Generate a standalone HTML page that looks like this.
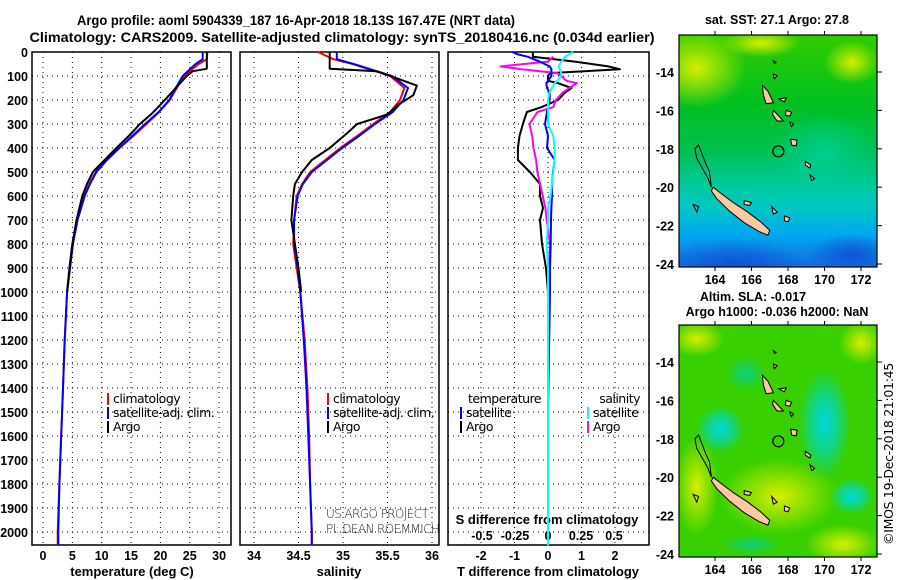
<!DOCTYPE html>
<html><head><meta charset="utf-8"><style>
html,body{margin:0;padding:0;background:#fff;}
svg{display:block;font-family:"Liberation Sans",sans-serif;}
.b{font-weight:bold;font-size:13px;}
.t{font-weight:bold;font-size:12.5px;}
</style></head><body>
<svg id="c" width="900" height="580" viewBox="0 0 900 580">
<defs>
<linearGradient id="sstg" x1="0" y1="0" x2="0" y2="1">
<stop offset="0" stop-color="#30cc00"/><stop offset="0.3" stop-color="#00c020"/><stop offset="0.5" stop-color="#00c050"/><stop offset="0.62" stop-color="#00c890"/><stop offset="0.74" stop-color="#00c8c0"/><stop offset="0.86" stop-color="#00a8f0"/><stop offset="1" stop-color="#1868e0"/></linearGradient>
<radialGradient id="yl"><stop offset="0" stop-color="#e0f000" stop-opacity="0.95"/><stop offset="1" stop-color="#e0f000" stop-opacity="0"/></radialGradient>
<radialGradient id="cy"><stop offset="0" stop-color="#00d8e0" stop-opacity="1"/><stop offset="0.5" stop-color="#00d8c0" stop-opacity="0.7"/><stop offset="1" stop-color="#00d8c0" stop-opacity="0"/></radialGradient>
<radialGradient id="db"><stop offset="0" stop-color="#1050d0" stop-opacity="0.9"/><stop offset="1" stop-color="#1050d0" stop-opacity="0"/></radialGradient>
<radialGradient id="cy2"><stop offset="0" stop-color="#00d0a0" stop-opacity="0.8"/><stop offset="1" stop-color="#00d0a0" stop-opacity="0"/></radialGradient>
<clipPath id="m1c"><rect x="679" y="35" width="198" height="232"/></clipPath>
<clipPath id="m2c"><rect x="679" y="325" width="198" height="232"/></clipPath>
</defs>
<text x="296" y="25" text-anchor="middle" textLength="438" lengthAdjust="spacingAndGlyphs" class="b" style="font-size:14px">Argo profile: aoml 5904339_187 16-Apr-2018 18.13S 167.47E (NRT data)</text>
<text x="342" y="42" text-anchor="middle" textLength="625" lengthAdjust="spacingAndGlyphs" class="b" style="font-size:14px">Climatology: CARS2009. Satellite-adjusted climatology: synTS_20180416.nc (0.034d earlier)</text>
<g id="plots"></g>
<g id="maps"></g>
</svg>
<script>
// ---------- data ----------
const climDepth = [0,30,50,100,150,200,250,300,350,400,450,500,550,600,700,800,900,1000,1200,1400,1600,1800,2000,2055];
const climTemp  = [28,27.9,26.5,24,22.8,21.6,19.8,17.6,15.4,13,10.8,9,7.9,7,5.8,5.1,4.6,4.1,3.7,3.4,3.1,2.8,2.5,2.5];
const satTemp   = [27.2,27.2,26,23.8,22.6,21.5,19.7,17.4,15.2,13,10.9,9.1,8,7.1,5.9,5.1,4.6,4.1,3.7,3.4,3.1,2.8,2.6,2.6];
const argoDepth = [0,70,80,100,140,180,220,260,300,340,400,450,500,550,600,700,800,900,1000];
const argoTemp  = [27.9,27.9,25.5,24.5,23,21.5,20,18.4,16.5,15,12.5,10.5,8.5,7.5,6.7,5.7,5.0,4.5,4.1];
const climSal   = [34.72,34.89,35.11,35.53,35.69,35.64,35.53,35.34,35.16,34.97,34.8,34.63,34.54,34.48,34.45,34.44,34.48,34.52,34.57,34.6,34.62,34.63,34.65,34.65];
const satSal    = [34.93,34.93,35.12,35.55,35.73,35.68,35.56,35.36,35.18,34.99,34.82,34.65,34.55,34.49,34.45,34.45,34.49,34.52,34.56,34.59,34.61,34.63,34.65,34.65];
const argoSal   = [34.85,34.85,35.38,35.53,35.83,35.79,35.62,35.5,35.16,35.04,34.85,34.65,34.54,34.46,34.44,34.42,34.46,34.5,34.53];
const diffDepth = [0,10,20,40,60,72,88,100,120,130,150,170,200,230,250,300,350,400,450,500,550,600,650,700,800,900,1000,1500,2055];
const argoTDiff = [-0.45,-0.45,-0.45,0.8,1.8,2.15,0.06,0.0,0.0,0.3,0.7,0.5,0.3,-0.2,-0.63,-0.75,-0.85,-0.9,-0.9,-0.54,-0.24,-0.24,-0.15,-0.24,-0.18,-0.06,0.0,null,null];
const satTDiff  = [-1.07,-0.9,-0.6,-0.25,0.05,0.1,0.1,0.1,0.0,-0.05,-0.03,0.05,0.05,0.0,-0.03,-0.09,0.0,-0.03,0.2,0.15,0.12,0.12,0.1,0.09,0.08,0.06,0.06,0.0,0.0];
const argoSDiff = [null,null,0.04,0.0,-0.36,-0.2,0.07,0.1,0.14,0.22,0.16,0.11,0.06,0.04,-0.08,-0.14,-0.12,-0.11,-0.09,-0.08,-0.06,-0.04,-0.02,-0.01,0.015,0.01,0.01,null,null];
const satSDiff  = [0.19,0.16,0.13,0.1,0.08,0.09,0.1,0.1,0.07,0.05,0.03,0.01,0.0,0.0,0.0,0.0,0.04,0.05,0.05,0.04,0.03,0.02,0.0,0.0,-0.01,0.0,0.0,0.0,0.0];
const depthTicks = [0,100,200,300,400,500,600,700,800,900,1000,1100,1200,1300,1400,1500,1600,1700,1800,1900,2000];
const tempTicks = [0,5,10,15,20,25,30];
const salTicks = [34,34.5,35,35.5,36];
const salTickLabels = ["34","34.5","35","35.5","36"];
const tdTicks = [-2,-1,0,1,2];
const sdTicks = [-0.5,-0.25,0,0.25,0.5];
const sdTickLabels = ["-0.5","-0.25","0","0.25","0.5"];
const lonTicks = [164,166,168,170,172];
const latTicks = [-14,-16,-18,-20,-22,-24];
const floatLon = 167.47, floatLat = -18.13;

const NS='http://www.w3.org/2000/svg';
const P=document.getElementById('plots');
function mk(tag,attrs,parent){const e=document.createElementNS(NS,tag);for(const k in attrs)e.setAttribute(k,attrs[k]);(parent||P).appendChild(e);return e;}
const yD = d => 52 + d*0.24;
const xT = t => 43 + t*5.87;
const xS = s => 254 + (s-34)*89;
const xTD = d => 548 + d*33.5;
const xSD = d => 548 + d*132;
const panels=[{x0:32,x1:231},{x0:240,x1:439},{x0:448,x1:649}];
const Y0=52,Y1=545;

function grid(px,xs){
  depthTicks.forEach(d=>{const l=mk('line',{x1:px.x0,x2:px.x1,y1:yD(d),y2:yD(d),stroke:'#000','stroke-dasharray':'1,4','stroke-width':1});
  
  });
  xs.forEach(x=>{const l=mk('line',{x1:x,x2:x,y1:Y0,y2:Y1,stroke:'#000','stroke-dasharray':'1,4','stroke-width':1});
  
  });
}
grid(panels[0],tempTicks.map(xT));
grid(panels[1],salTicks.map(xS));
grid(panels[2],tdTicks.map(xTD));
panels.forEach((p,i)=>{const r=mk('rect',{x:p.x0,y:Y0,width:p.x1-p.x0,height:Y1-Y0,fill:'none',stroke:'#000','stroke-width':1.5});

});
depthTicks.forEach(d=>{const t=mk('text',{x:28,y:yD(d)+5,'text-anchor':'end','class':'t'});t.textContent=d;

});
function xlabels(ticks,labels,fx,y){ticks.forEach((v,i)=>{const t=mk('text',{x:fx(v),y:y,'text-anchor':'middle','class':'t'});t.textContent=labels?labels[i]:v;

});}
xlabels(tempTicks,null,xT,560);
xlabels(salTicks,salTickLabels,xS,560);
xlabels(tdTicks,null,xTD,560);
xlabels(sdTicks,sdTickLabels,xSD,540);
[['temperature (deg C)',132,'x-axis-title-temperature'],['salinity',339,'x-axis-title-salinity'],['T difference from climatology',548,'x-axis-title-t-diff']].forEach(a=>{
 const t=mk('text',{x:a[1],y:576,'text-anchor':'middle','class':'b'});t.textContent=a[0];
 
 });
{const t=mk('text',{x:547,y:524,'text-anchor':'middle','class':'b'});t.textContent='S difference from climatology';

}

function line(xs,ds,fx,color,name,w){
  let d='',pen=false;
  for(let i=0;i<xs.length;i++){ if(xs[i]===null||xs[i]===undefined){pen=false;continue;}
    d+=(pen?'L':'M')+fx(xs[i]).toFixed(1)+','+yD(ds[i]).toFixed(1);pen=true;}
  const p=mk('path',{d:d,fill:'none',stroke:color,'stroke-width':w||2,'stroke-linejoin':'round'});
  
  
}
line(climTemp,climDepth,xT,'#ff0000','temp-climatology-line');
line(satTemp,climDepth,xT,'#0000ff','temp-satellite-line');
line(argoTemp,argoDepth,xT,'#000','temp-argo-line');
line(climSal,climDepth,xS,'#ff0000','sal-climatology-line');
line(satSal,climDepth,xS,'#0000ff','sal-satellite-line');
line(argoSal,argoDepth,xS,'#000','sal-argo-line');
line(argoTDiff,diffDepth,xTD,'#000','t-diff-argo-line');
line(argoSDiff,diffDepth,xSD,'#ff00ff','s-diff-argo-line');
line(satTDiff,diffDepth,xTD,'#0000ff','t-diff-satellite-line');
line(satSDiff,diffDepth,xSD,'#00ffff','s-diff-satellite-line');

function legend(x,y,color,label,name){
  const m=mk('rect',{x:x,y:y-10,width:2,height:12,fill:color});
  
  
  const t=mk('text',{x:x+6,y:y,style:'font-size:12.5px;font-family:\"DejaVu Sans\",sans-serif;letter-spacing:-0.5px'});t.textContent=label;
  
  
}
[[107,'climatology','#ff0000'],[107,'satellite-adj. clim.','#0000ff'],[107,'Argo','#000']].forEach((a,i)=>legend(a[0],403+i*14,a[2],a[1],'legend-temp-'+i));
[[327,'climatology','#ff0000'],[327,'satellite-adj. clim.','#0000ff'],[327,'Argo','#000']].forEach((a,i)=>legend(a[0],403+i*14,a[2],a[1],'legend-sal-'+i));
{const t=mk('text',{x:468,y:403,style:'font-size:12.5px;font-family:\"DejaVu Sans\",sans-serif;letter-spacing:-0.5px'});t.textContent='temperature';


const s=mk('text',{x:640,y:403,'text-anchor':'end',style:'font-size:12.5px;font-family:\"DejaVu Sans\",sans-serif;letter-spacing:-0.5px'});s.textContent='salinity';

}
legend(460,417,'#0000ff','satellite','legend-tdiff-satellite');
legend(460,431,'#000','Argo','legend-tdiff-argo');
legend(587,417,'#00ffff','satellite','legend-sdiff-satellite');
legend(587,431,'#ff00ff','Argo','legend-sdiff-argo');
{const a=mk('text',{x:326,y:518,style:'font-size:12px;font-family:\"DejaVu Sans\",sans-serif;font-weight:200;fill:#222;letter-spacing:-0.6px'});a.textContent='US ARGO PROJECT';


const b=mk('text',{x:326,y:533,style:'font-size:12px;font-family:\"DejaVu Sans\",sans-serif;font-weight:200;fill:#222;letter-spacing:-0.6px'});b.textContent='PI: DEAN ROEMMICH';

}

// ---------- maps ----------
const M=document.getElementById('maps');
function mm(tag,attrs,parent){const e=document.createElementNS(NS,tag);for(const k in attrs)e.setAttribute(k,attrs[k]);(parent||M).appendChild(e);return e;}
const lonX = lo => 715 + (lo-164)*18.25;
const latY = (la,y0) => y0 + 37 + (-14-la)*19.2;
const newCal=[[163.9,-20.0],[164.3,-20.3],[165.0,-20.8],[165.8,-21.3],[166.5,-21.8],[167.0,-22.25],[166.9,-22.5],[166.4,-22.3],[165.6,-21.85],[164.8,-21.25],[164.1,-20.6],[163.8,-20.2]];
const islands=[
[[166.6,-14.7],[166.9,-15.0],[167.2,-15.6],[166.8,-15.65],[166.65,-15.2]],
[[167.2,-16.0],[167.5,-16.3],[167.75,-16.55],[167.4,-16.55],[167.15,-16.2]],
[[168.15,-17.5],[168.5,-17.55],[168.45,-17.85],[168.2,-17.8]],
[[168.95,-18.65],[169.25,-18.85],[169.2,-19.0],[168.95,-18.85]],
[[169.2,-19.35],[169.45,-19.55],[169.3,-19.65]],
[[167.5,-15.4],[167.9,-15.35],[167.8,-15.55]],
[[167.9,-16.0],[168.2,-16.1],[168.1,-16.3],[167.85,-16.25]],
[[168.1,-16.6],[168.3,-16.7],[168.2,-16.85]],
[[167.2,-14.1],[167.4,-14.2],[167.25,-14.35]],
[[167.2,-13.4],[167.35,-13.5],[167.25,-13.55]],
[[167.1,-21.0],[167.4,-21.3],[167.2,-21.4]],
[[167.8,-21.5],[168.1,-21.6],[168.0,-21.8],[167.8,-21.75]],
[[165.6,-20.7],[166.0,-20.8],[165.9,-20.95],[165.6,-20.9]]];
const reef=[[163.0,-21.3],[163.1,-21.0],[162.8,-20.9],[162.9,-21.1]];
const ncReef=[[163.8,-20.0],[163.6,-19.5],[163.3,-19.0],[163.0,-18.5],[162.9,-18.0],[163.1,-17.8],[163.3,-18.3],[163.5,-18.8],[163.7,-19.2]];
function poly(pts,y0,attrs,name){const e=mm('polygon',Object.assign({points:pts.map(p=>lonX(p[0]).toFixed(1)+','+latY(p[1],y0).toFixed(1)).join(' ')},attrs));
 
 return e;}
function map(y0,clip,bg,blobs,title1,idx){
  const g=mm('g',{'clip-path':'url(#'+clip+')'});
  
  
  mm('rect',{x:679,y:y0,width:198,height:232,fill:bg},g);
  blobs.forEach(b=>{mm('ellipse',{cx:lonX(b[0]),cy:latY(b[1],y0),rx:b[2],ry:b[3],fill:'url(#'+b[4]+')'},g);});
  const ow={fill:'none',stroke:'#000','stroke-width':1};
  g.appendChild(poly(ncReef,y0,ow,'reef-outline'));
  g.appendChild(poly(reef,y0,ow,'reef-outline'));
  g.appendChild(poly(newCal,y0,{fill:'#ffc8a0',stroke:'#000','stroke-width':1},'new-caledonia'));
  islands.forEach(il=>g.appendChild(poly(il,y0,{fill:'#ffc8a0',stroke:'#000','stroke-width':1},'island')));
  const c=mm('circle',{cx:lonX(floatLon),cy:latY(floatLat,y0),r:5.5,fill:'none',stroke:'#000','stroke-width':1.2},g);
  
  
  const f=mm('rect',{x:679,y:y0,width:198,height:232,fill:'none',stroke:'#000','stroke-width':1.2});
  
  
  lonTicks.forEach(lo=>{mm('line',{x1:lonX(lo),x2:lonX(lo),y1:y0,y2:y0-4,stroke:'#000'});mm('line',{x1:lonX(lo),x2:lonX(lo),y1:y0+232,y2:y0+236,stroke:'#000'});
   const t=mm('text',{x:lonX(lo),y:y0+249,'text-anchor':'middle','class':'t'});t.textContent=lo;
   
   });
  latTicks.forEach(la=>{mm('line',{x1:877,x2:882,y1:latY(la,y0),y2:latY(la,y0),stroke:'#000'});
   const t=mm('text',{x:674,y:latY(la,y0)+5,'text-anchor':'end','class':'t'});t.textContent=la;
   
   });
  title1.forEach(tt=>{const t=mm('text',{x:tt[1],y:tt[2],'text-anchor':'middle','class':'t'});t.textContent=tt[0];
   
   });
}
map(35,'m1c','url(#sstg)',[[163,-13.8,50,40,'yl'],[166.5,-12.5,40,14,'yl'],[171.5,-13.5,28,22,'yl'],[170,-18.2,55,40,'cy2'],[165,-24,70,25,'db'],[171.5,-23.5,45,20,'db']],[['sat. SST: 27.1 Argo: 27.8',777,24]],1);
map(325,'m2c','#38d000',[[163,-12.8,28,18,'yl'],[172,-13,22,22,'yl'],[167.5,-21,60,38,'yl'],[163,-20.5,22,50,'yl'],[171,-23.5,38,20,'yl'],[170,-17.2,26,55,'cy'],[164.3,-17.5,24,24,'cy'],[171.5,-21,22,18,'cy'],[165.7,-14.6,20,18,'cy2'],[166,-23.5,30,10,'cy2']],[['Altim. SLA: -0.017',753,301],['Argo h1000: -0.036 h2000: NaN',777,316]],2);
{const t=mm('text',{x:0,y:0,transform:'translate(893,545) rotate(-90)',style:'font-size:12.5px;font-family:\"DejaVu Sans\",sans-serif;letter-spacing:-0.3px'});t.textContent='©IMOS 19-Dec-2018 21:01:45';

}
</script>
</body></html>
